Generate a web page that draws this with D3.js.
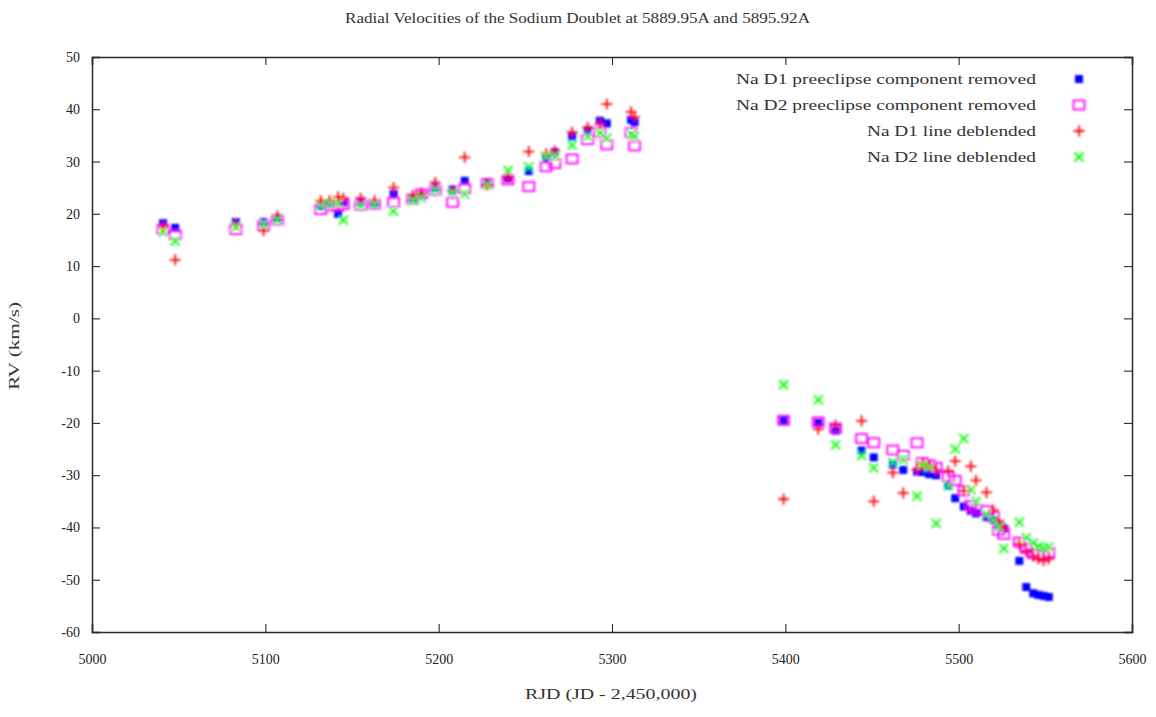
<!DOCTYPE html>
<html><head><meta charset="utf-8">
<script src="https://cdn.jsdelivr.net/npm/d3@7"></script>
<style>body{margin:0;background:#fff;}svg{display:block;}</style>
</head><body>
<svg id="c" width="1156" height="717"></svg>
<script>
const dates = [5041,5048,5083,5099,5107,5132,5137,5142,5145,5155,5163,5174,5185,5190,5198,5208,5215,5228,5240,5252,5262,5267,5277,5286,5293,5297,5311,5313,
 5399,5419,5429,5444,5451,5462,5468,5476,5479,5483,5487,5494,5498,5503,5507,5510,5516,5520,5523,5526,5535,5539,5543,5546,5549,5552];
const d1pre = [18.2,17.3,18.4,18.4,19.2,21.5,22.0,20.0,22.2,22.3,22.0,23.8,23.0,23.5,25.0,24.6,26.3,26.0,26.8,28.2,30.5,31.8,34.8,36.0,37.8,37.3,38.0,37.5,
 -19.5,-20.0,-21.5,-25.3,-26.6,-28.0,-29.0,-29.3,-29.4,-29.8,-30.0,-32.0,-34.4,-36.0,-36.8,-37.3,-38.0,-38.6,-39.5,-40.2,-46.4,-51.4,-52.6,-52.9,-53.1,-53.3];
const d2pre = [17.0,16.0,17.0,17.8,18.8,20.8,21.5,21.5,21.8,21.6,21.8,22.2,22.8,23.8,24.5,22.2,24.8,25.8,26.5,25.2,29.0,29.6,30.5,34.2,35.6,33.2,35.5,33.0,
 -19.5,-19.8,-21.0,-23.0,-23.8,-25.2,-26.2,-23.8,-27.6,-28.0,-28.5,-30.3,-31.0,-33.0,-35.8,-36.5,-36.8,-38.0,-40.5,-41.3,-42.8,-44.0,-45.0,-45.2,-45.5,-44.8];
const d1del = [17.5,11.2,18.0,16.8,19.6,22.5,22.5,23.2,23.0,23.0,22.5,25.0,23.5,24.0,26.0,24.5,30.8,25.5,27.0,31.9,31.5,32.0,35.6,36.5,37.2,41.0,39.5,38.5,
 -34.6,-21.2,-20.4,-19.6,-35.0,-29.5,-33.4,-29.0,-27.8,-28.3,-29.0,-29.2,-27.3,-33.0,-28.3,-31.0,-33.3,-36.7,-38.8,-40.0,-43.2,-44.5,-45.5,-46.0,-46.3,-46.0];
const d2del = [16.5,14.8,17.5,18.0,18.8,21.5,22.0,22.0,18.8,21.5,21.8,20.5,22.5,23.0,24.5,24.0,23.8,25.5,28.3,29.0,31.0,31.0,33.2,34.8,35.5,34.5,35.2,34.8,
 -12.7,-15.6,-24.2,-26.2,-28.6,-27.5,-27.0,-34.0,-28.0,-28.5,-39.2,-32.0,-25.0,-23.0,-32.8,-35.0,-37.5,-38.5,-40.0,-44.0,-39.0,-42.0,-43.0,-43.7,-44.0,-43.8];
const seriesNames = ["Na D1 preeclipse component removed","Na D2 preeclipse component removed","Na D1 line deblended","Na D2 line deblended"];
const seriesColors = ["#0000ff","#ff00ff","#ff0000","#00ff00"];
const xTicks = [5000,5100,5200,5300,5400,5500,5600];
const yTicks = [50,40,30,20,10,0,-10,-20,-30,-40,-50,-60];
const titleText = "Radial Velocities of the Sodium Doublet at 5889.95A and 5895.92A";
const xLabel = "RJD (JD - 2,450,000)";
const yLabel = "RV (km/s)";

const FONT = "'Liberation Serif', 'DejaVu Serif', serif";
const svg = d3.select("#c");
const L=92,R=1132,T=57,B=632;
const x = d3.scaleLinear().domain([5000,5600]).range([L,R]);
const y = d3.scaleLinear().domain([-60,50]).range([B,T]);
const ink="#2a2a2a";
const txt="#333";

function label(sel, t, w){
  return sel.attr("font-family",FONT).attr("font-size",15).attr("fill",txt)
    .attr("textLength",w).attr("lengthAdjust","spacingAndGlyphs").text(t);
}

label(svg.append("text").attr("x",345).attr("y",23),titleText,465);

const fmt = d => String(d);
const gB = svg.append("g").attr("transform",`translate(0,${B})`).call(d3.axisBottom(x).tickValues(xTicks).tickSize(-8).tickPadding(22).tickFormat(fmt));
const gT = svg.append("g").attr("transform",`translate(0,${T})`).call(d3.axisTop(x).tickValues(xTicks).tickSize(-8).tickFormat(""));
const gL = svg.append("g").attr("transform",`translate(${L},0)`).call(d3.axisLeft(y).tickValues(yTicks).tickSize(-8).tickPadding(12).tickFormat(fmt));
const gR = svg.append("g").attr("transform",`translate(${R},0)`).call(d3.axisRight(y).tickValues(yTicks).tickSize(-8).tickFormat(""));
[gB,gT,gL,gR].forEach(g=>{
  g.attr("font-family",FONT);
  g.select(".domain").attr("stroke",ink).attr("stroke-width",1.5);
  g.selectAll(".tick line").attr("stroke",ink).attr("stroke-width",1.1);
  g.selectAll(".tick text").attr("font-family",FONT).attr("font-size",14).attr("fill","#222");
});
label(svg.append("text").attr("x",525).attr("y",699),xLabel,172);
label(svg.append("text").attr("transform",`translate(19,${390}) rotate(-90)`),yLabel,88);

const blur = svg.append("defs").append("filter").attr("id","bl").attr("x","-50%").attr("y","-50%").attr("width","200%").attr("height","200%");
blur.append("feGaussianBlur").attr("stdDeviation",0.9);

function marker(g,k,cx,cy){
  const c=seriesColors[k];
  if(k===0){g.append("rect").attr("x",cx-4).attr("y",cy-4).attr("width",8).attr("height",8).attr("fill",c);}
  else if(k===1){g.append("rect").attr("x",cx-5.5).attr("y",cy-4.5).attr("width",11).attr("height",9).attr("fill","none").attr("stroke",c).attr("stroke-width",1.8);}
  else if(k===2){g.append("path").attr("d",`M${cx-5.5},${cy}H${cx+5.5}M${cx},${cy-5.5}V${cy+5.5}`).attr("stroke",c).attr("stroke-width",1.8);}
  else {g.append("path").attr("d",`M${cx-4.5},${cy-4.5}L${cx+4.5},${cy+4.5}M${cx-4.5},${cy+4.5}L${cx+4.5},${cy-4.5}`).attr("stroke",c).attr("stroke-width",1.8);}
}
const all=[d1pre,d2pre,d1del,d2del];
const pts = svg.append("g").attr("filter","url(#bl)");
all.forEach((vals,k)=>{
  const g=pts.append("g");
  dates.forEach((d,i)=>marker(g,k,x(d),y(vals[i])));
});
const lg = svg.append("g");
const legW=[300,300,169,169];
seriesNames.forEach((n,k)=>{
  const yy=79+k*26;
  label(lg.append("text").attr("x",1036-legW[k]).attr("y",yy+5),n,legW[k]);
  marker(lg.append("g").attr("filter","url(#bl)"),k,1079,yy);
});
</script>
</body></html>
